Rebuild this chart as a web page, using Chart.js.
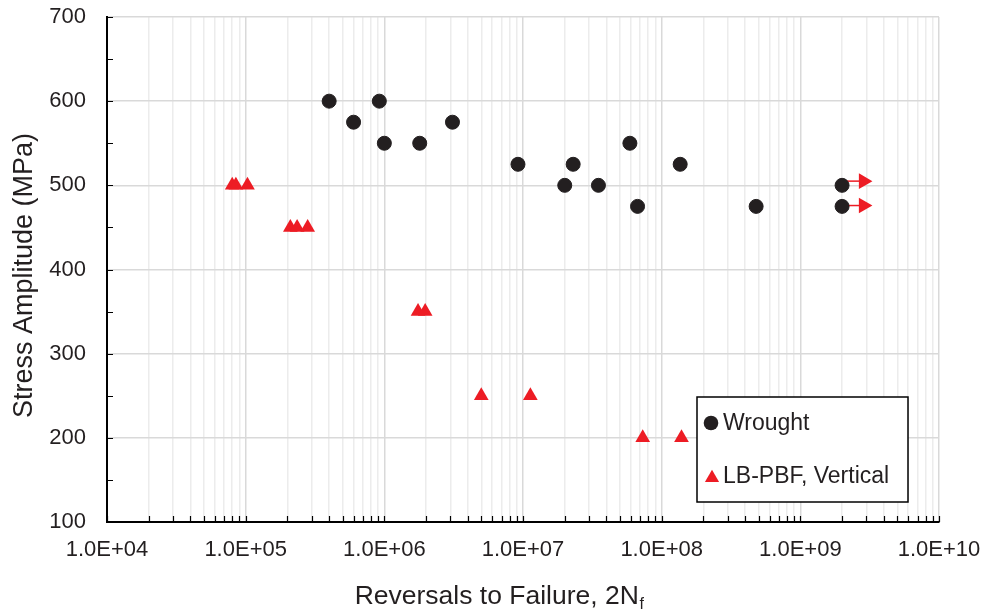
<!DOCTYPE html>
<html>
<head>
<meta charset="utf-8">
<script src="https://cdn.jsdelivr.net/npm/chart.js@4.4.1/dist/chart.umd.min.js"></script>
<style>
  html, body { margin: 0; padding: 0; background: #ffffff; }
  #wrap { width: 989px; height: 613px; position: relative; }
</style>
</head>
<body>
<div id="wrap"><canvas id="c" width="989" height="613"></canvas></div>
<script>
// ---------- DATA ----------
const wroughtLabel = 'Wrought';
const wroughtX = [4.0e5, 9.2e5, 6.0e5, 1.0e6, 1.8e6, 3.1e6, 9.2e6, 2.3e7, 2.0e7, 3.5e7, 5.9e7, 6.7e7, 1.36e8, 4.8e8, 2.0e9, 2.0e9];
const wroughtY = [600, 600, 575, 550, 550, 575, 525, 525, 500, 500, 550, 475, 525, 475, 500, 475];

const lbpbfLabel = 'LB-PBF, Vertical';
const lbpbfX = [8.0e4, 8.5e4, 1.03e5, 2.1e5, 2.35e5, 2.8e5, 1.75e6, 1.97e6, 5.0e6, 1.13e7, 7.3e7, 1.39e8];
const lbpbfY = [500, 500, 500, 450, 450, 450, 350, 350, 250, 250, 200, 200];

// run-out arrows (start at the run-out point, tip further right)
const runoutStartX = [2.0e9, 2.0e9];
const runoutTipX = [2.85e9, 2.85e9];
const runoutY = [505, 476];

const xMin = 1e4, xMax = 1e10;
const yMin = 100, yMax = 700, yStep = 50, yLabelStep = 100;
const xTitle = 'Reversals to Failure, 2N';
const xTitleSub = 'f';
const yTitle = 'Stress Amplitude (MPa)';

// ---------- STYLE ----------
const FONT = '"Liberation Sans", Arial, Helvetica, sans-serif';
const TEXT = '#231f20';
const BLACK = '#231f20';
const RED = '#ed1c24';
const GRID_MAJOR = '#d9d9d9';
const GRID_MINOR = '#ececec';

function isDecade(v) {
  const l = Math.log10(v);
  return Math.abs(l - Math.round(l)) < 1e-9;
}
function fmtExp(v) {
  const e = Math.floor(Math.log10(v) + 1e-9);
  const m = v / Math.pow(10, e);
  return m.toFixed(1) + 'E' + (e >= 0 ? '+' : '-') + String(Math.abs(e)).padStart(2, '0');
}

const datasets = [
  {
    label: wroughtLabel,
    legend: true,
    data: wroughtX.map((x, i) => ({ x, y: wroughtY[i] })),
    pointStyle: 'circle',
    pointRadius: 7,
    pointBorderWidth: 1,
    backgroundColor: BLACK,
    borderColor: BLACK,
    order: 1
  },
  {
    label: lbpbfLabel,
    legend: true,
    data: lbpbfX.map((x, i) => ({ x, y: lbpbfY[i] })),
    pointStyle: 'triangle',
    pointRadius: 8.5,
    pointBorderWidth: 0,
    backgroundColor: RED,
    borderColor: RED,
    order: 2
  }
];
runoutStartX.forEach((x0, i) => {
  datasets.push({
    label: 'runout' + i,
    legend: false,
    showLine: true,
    data: [{ x: x0, y: runoutY[i] }, { x: runoutTipX[i], y: runoutY[i] }],
    borderColor: RED,
    borderWidth: 1.5,
    backgroundColor: RED,
    pointStyle: 'triangle',
    pointRotation: 90,
    pointRadius: [0, 9],
    pointBorderWidth: 0,
    order: 3
  });
});

// ---------- PLUGINS ----------
const innerTicks = {
  id: 'innerTicks',
  beforeDatasetsDraw(chart) {
    const { ctx, chartArea: a, scales: { x, y } } = chart;
    ctx.save();
    ctx.strokeStyle = '#000';
    ctx.lineWidth = 1.2;
    ctx.beginPath();
    x.ticks.forEach(t => {
      const px = Math.round(x.getPixelForValue(t.value)) + 0.5;
      ctx.moveTo(px, a.bottom);
      ctx.lineTo(px, a.bottom - 6);
    });
    y.ticks.forEach(t => {
      const py = Math.round(y.getPixelForValue(t.value)) + 0.5;
      ctx.moveTo(a.left, py);
      ctx.lineTo(a.left + 6, py);
    });
    ctx.stroke();
    ctx.restore();
  }
};

const titles = {
  id: 'titles',
  afterDraw(chart) {
    const { ctx, chartArea: a } = chart;
    ctx.save();
    ctx.fillStyle = TEXT;
    // x title with subscript
    const fs = 26.5;
    ctx.font = fs + 'px ' + FONT;
    const mainW = ctx.measureText(xTitle).width;
    ctx.font = Math.round(fs * 0.62) + 'px ' + FONT;
    const subW = ctx.measureText(xTitleSub).width;
    const total = mainW + subW;
    const cx = (a.left + a.right) / 2 - 24;
    const base = 604;
    ctx.textBaseline = 'alphabetic';
    ctx.textAlign = 'left';
    ctx.font = fs + 'px ' + FONT;
    ctx.fillText(xTitle, cx - total / 2, base);
    ctx.font = Math.round(fs * 0.62) + 'px ' + FONT;
    ctx.fillText(xTitleSub, cx - total / 2 + mainW + 0.5, base + 5);
    // y title
    ctx.font = '27px ' + FONT;
    ctx.translate(25, (a.top + a.bottom) / 2 + 6);
    ctx.rotate(-Math.PI / 2);
    ctx.textAlign = 'center';
    ctx.textBaseline = 'middle';
    ctx.fillText(yTitle, 0, 0);
    ctx.restore();
  }
};

const boxLegend = {
  id: 'boxLegend',
  afterDatasetsDraw(chart) {
    const { ctx, chartArea: a } = chart;
    const w = 211, h = 105;
    const x0 = a.right - 31 - w, y0 = a.bottom - 20 - h;
    ctx.save();
    ctx.fillStyle = '#fff';
    ctx.fillRect(x0, y0, w, h);
    ctx.strokeStyle = '#000';
    ctx.lineWidth = 1.5;
    ctx.strokeRect(x0, y0, w, h);
    const items = chart.data.datasets.filter(d => d.legend);
    const rows = [26, 79];
    items.forEach((d, i) => {
      const ry = y0 + rows[i];
      ctx.fillStyle = d.backgroundColor;
      ctx.strokeStyle = d.borderColor;
      const isTri = d.pointStyle === 'triangle';
      Chart.helpers.drawPoint(ctx, {
        pointStyle: d.pointStyle,
        radius: isTri ? 8.2 : 7.3,
        rotation: 0,
        borderWidth: 0
      }, x0 + (isTri ? 15 : 14), ry + (isTri ? 2 : 0));
      ctx.fillStyle = TEXT;
      ctx.font = '23px ' + FONT;
      ctx.textAlign = 'left';
      ctx.textBaseline = 'middle';
      ctx.fillText(d.label, x0 + 26, ry + 1);
    });
    ctx.restore();
  }
};

// ---------- CHART ----------
Chart.defaults.font.family = FONT;
Chart.defaults.color = TEXT;

new Chart(document.getElementById('c'), {
  type: 'scatter',
  data: { datasets },
  options: {
    responsive: false,
    animation: false,
    layout: { padding: { top: 17, right: 50, bottom: 0, left: 0 } },
    plugins: {
      legend: { display: false },
      tooltip: { enabled: false },
      title: { display: false }
    },
    scales: {
      x: {
        type: 'logarithmic',
        min: xMin,
        max: xMax,
        afterBuildTicks(scale) {
          const ticks = [];
          for (let e = Math.log10(xMin); e < Math.log10(xMax); e++) {
            for (let m = 1; m <= 9; m++) ticks.push({ value: m * Math.pow(10, e) });
          }
          ticks.push({ value: xMax });
          scale.ticks = ticks;
        },
        afterFit(scale) {
          scale.height = 91;
          scale.paddingLeft = 0; scale.paddingRight = 0;
          scale.paddingTop = 0; scale.paddingBottom = 0;
        },
        border: { display: true, color: '#000', width: 2 },
        grid: {
          drawTicks: false,
          color: c => (c.tick && isDecade(c.tick.value)) ? GRID_MAJOR : GRID_MINOR,
          lineWidth: 1.5
        },
        ticks: {
          autoSkip: false,
          maxRotation: 0,
          minRotation: 0,
          padding: 15,
          font: { size: 22 },
          color: TEXT,
          callback: v => isDecade(v) ? fmtExp(v) : ''
        },
        title: { display: false }
      },
      y: {
        type: 'linear',
        min: yMin,
        max: yMax,
        afterFit(scale) {
          scale.width = 107;
          scale.paddingLeft = 0; scale.paddingRight = 0;
          scale.paddingTop = 0; scale.paddingBottom = 0;
        },
        border: { display: true, color: '#000', width: 2 },
        grid: {
          drawTicks: false,
          color: c => (c.tick && c.tick.value % yLabelStep === 0) ? GRID_MAJOR : 'rgba(0,0,0,0)',
          lineWidth: 1.5
        },
        ticks: {
          stepSize: yStep,
          padding: 21,
          font: { size: 22 },
          color: TEXT,
          callback: v => (v % yLabelStep === 0) ? String(v) : ''
        },
        title: { display: false }
      }
    }
  },
  plugins: [innerTicks, boxLegend, titles]
});
</script>
</body>
</html>
